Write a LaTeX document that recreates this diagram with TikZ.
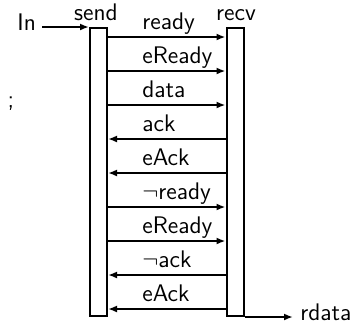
\documentclass[tikz,border=0pt]{standalone}
\usepackage{amsmath}
\usepackage{amssymb}
\usepackage{tikz}
\usetikzlibrary{arrows.meta}
\usetikzlibrary{positioning}

\begin{document}
\begin{tikzpicture}[x=0.5pt,y=-0.5pt,
        proc node/.style={draw,line width=1pt,minimum width=8.5pt,minimum height=144pt,inner sep=0pt},
        label node/.style={font=\sffamily\fontsize{12}{14}\selectfont,inner sep=0pt},
        msg/.style={line width=1pt,-{Latex[length=4.5pt,width=3.5pt]}},
    ]
    \useasboundingbox (0,0) rectangle (364,327);

    \node[proc node] (send) at (98.5,172) {};
    \node[proc node] (recv) at (235,172) {};
    \node[label node,anchor=base] (sendname) at (96,20) {send};
    \node[label node,anchor=base] (recvname) at (236,20) {recv};

    \node[label node,anchor=base west] (in) at (17,30) {In};
    \node[label node,anchor=base] (semi) at (11,107) {;};
    \node[label node,anchor=base west] (rdata) at (300,320) {rdata};

    \draw[msg] ([xshift=3pt]in.east |- send.north west) -- (send.north west);
    \draw[msg] (recv.south east) -- ([xshift=-3.5pt]rdata.west |- recv.south east);

    % messages: y, direction, text
    \foreach \i/\d/\t in {1/r/ready,2/r/eReady,3/r/data,4/l/ack,5/l/eAck,
                          6/r/$\neg$ready,7/r/eReady,8/l/$\neg$ack,9/l/eAck} {
        \pgfmathsetmacro\y{3+34*\i}
        \node[label node,anchor=base west] (m\i) at (142,\y-8) {\t};
        \if\d r
            \draw[msg] (send.east |- 0,\y) -- (recv.west |- 0,\y);
        \else
            \draw[msg] (recv.west |- 0,\y) -- (send.east |- 0,\y);
        \fi
    }
\end{tikzpicture}
\end{document}
